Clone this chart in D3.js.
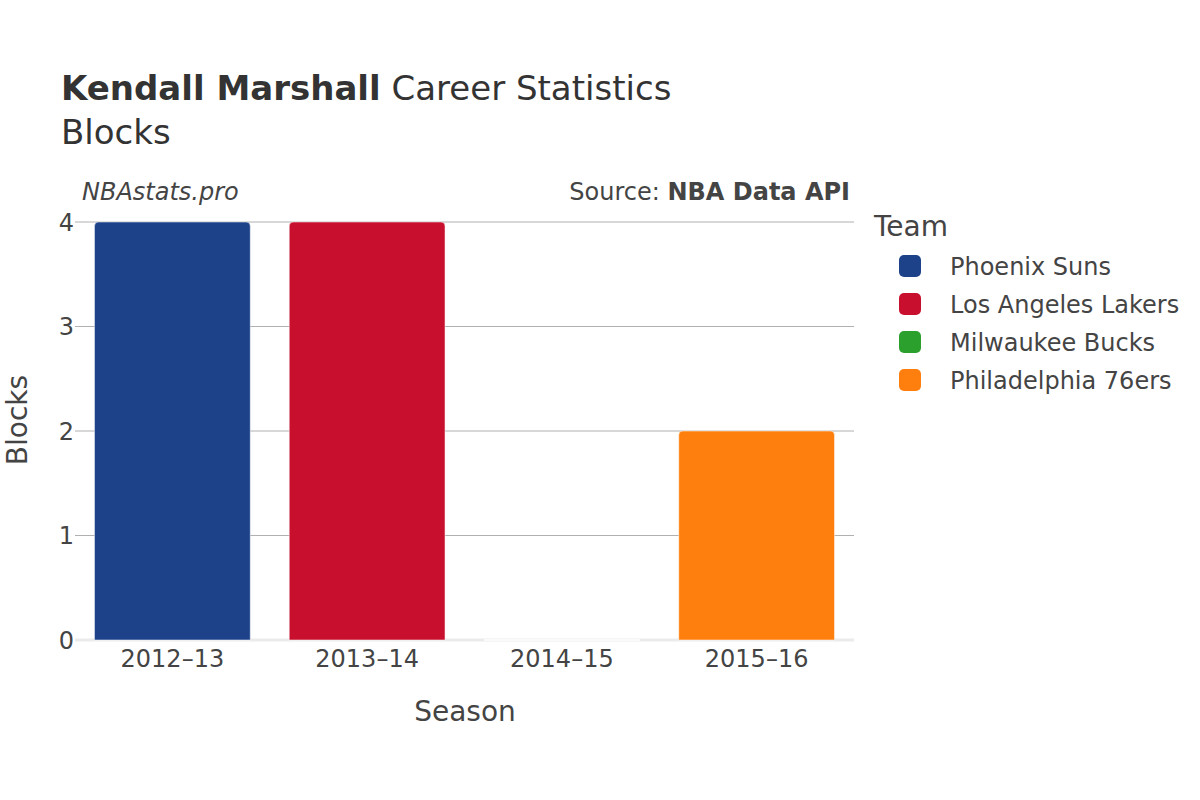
<!DOCTYPE html>
<html>
<head>
<meta charset="utf-8">
<script src="https://cdn.jsdelivr.net/npm/d3@7"></script>
<style>
  body { margin: 0; background: #fff; }
  svg { font-family: "DejaVu Sans", sans-serif; }
</style>
</head>
<body>
<svg id="chart" width="1200" height="800"></svg>
<script>
const seasons = ["2012\u201313", "2013\u201314", "2014\u201315", "2015\u201316"];
const teams = ["Phoenix Suns", "Los Angeles Lakers", "Milwaukee Bucks", "Philadelphia 76ers"];
const teamColors = ["#1d428a", "#c8102e", "#2ca02c", "#ff7f0e"];
const blocks = [4, 4, 0, 2];
const yTicks = [0, 1, 2, 3, 4];

const svg = d3.select("#chart");
const margin = {left: 75, right: 854, top: 222, bottom: 640};

const x = d3.scaleBand().domain(seasons).range([margin.left, margin.right]).paddingInner(0.2).paddingOuter(0.1);
const y = d3.scaleLinear().domain([0, 4]).range([margin.bottom, margin.top]);

// gridlines
svg.append("g").selectAll("line").data(yTicks.filter(d => d > 0)).join("line")
  .attr("x1", margin.left).attr("x2", margin.right)
  .attr("y1", d => y(d)).attr("y2", d => y(d))
  .attr("stroke", "#b0b0b0").attr("stroke-width", 1);

// zero line
svg.append("line")
  .attr("x1", margin.left).attr("x2", margin.right)
  .attr("y1", y(0)).attr("y2", y(0))
  .attr("stroke", "#ebebeb").attr("stroke-width", 3);

// bars with rounded top corners
function barPath(x0, w, yTop, yBase, r) {
  const h = yBase - yTop;
  r = Math.min(r, h, w / 2);
  if (h <= 0) return `M${x0},${yBase}H${x0 + w}`;
  return `M${x0},${yBase}V${yTop + r}Q${x0},${yTop} ${x0 + r},${yTop}H${x0 + w - r}Q${x0 + w},${yTop} ${x0 + w},${yTop + r}V${yBase}Z`;
}
svg.append("g").selectAll("path").data(seasons).join("path")
  .attr("d", (s, i) => barPath(x(s), x.bandwidth(), y(blocks[i]), y(0), 4))
  .attr("fill", (s, i) => teamColors[i])
  .attr("stroke", "#fff").attr("stroke-width", (s, i) => blocks[i] === 0 ? 1.5 : 0.5);

// y axis labels
svg.append("g").selectAll("text").data(yTicks).join("text")
  .attr("x", 74).attr("y", d => y(d)).attr("dy", "0.36em")
  .attr("text-anchor", "end").attr("font-size", 24).attr("fill", "#444")
  .text(d => d);

// x axis labels
svg.append("g").selectAll("text").data(seasons).join("text")
  .attr("x", s => x(s) + x.bandwidth() / 2).attr("y", 667)
  .attr("text-anchor", "middle").attr("font-size", 24).attr("fill", "#444")
  .text(s => s);

// axis titles
svg.append("text").attr("x", 465).attr("y", 721).attr("text-anchor", "middle")
  .attr("font-size", 28).attr("fill", "#444").text("Season");
svg.append("text").attr("transform", "translate(27,420) rotate(-90)").attr("text-anchor", "middle")
  .attr("font-size", 28).attr("fill", "#444").text("Blocks");

// title
const t = svg.append("text").attr("x", 61).attr("y", 100).attr("font-size", 34).attr("fill", "#333");
t.append("tspan").attr("font-weight", "bold").text("Kendall Marshall");
t.append("tspan").text(" Career Statistics");
svg.append("text").attr("x", 61).attr("y", 144).attr("font-size", 34).attr("fill", "#333").text("Blocks");

// annotations
svg.append("text").attr("x", 82).attr("y", 200).attr("font-size", 24).attr("font-style", "italic")
  .attr("fill", "#444").text("NBAstats.pro");
const src = svg.append("text").attr("x", 850).attr("y", 200).attr("text-anchor", "end")
  .attr("font-size", 24).attr("fill", "#444");
src.append("tspan").text("Source: ");
src.append("tspan").attr("font-weight", "bold").text("NBA Data API");

// legend
svg.append("text").attr("x", 874).attr("y", 236).attr("font-size", 28).attr("fill", "#444").text("Team");
const lg = svg.append("g").selectAll("g").data(teams).join("g")
  .attr("transform", (d, i) => `translate(0, ${266 + i * 38})`);
lg.append("rect").attr("x", 899).attr("y", -11).attr("width", 22).attr("height", 22).attr("rx", 5)
  .attr("fill", (d, i) => teamColors[i]);
lg.append("text").attr("x", 950).attr("y", 0).attr("dy", "0.36em").attr("font-size", 24)
  .attr("fill", "#444").text(d => d);
</script>
</body>
</html>
